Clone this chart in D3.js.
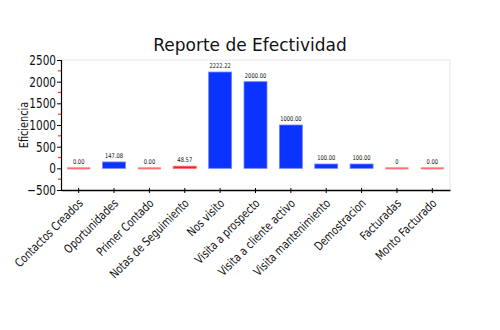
<!DOCTYPE html>
<html>
<head>
<meta charset="utf-8">
<script src="https://cdn.jsdelivr.net/npm/d3@7"></script>
<style>
  html, body { margin: 0; padding: 0; background: #fff; }
  svg text { font-family: "DejaVu Sans", sans-serif; }
</style>
</head>
<body>
<svg id="chart" width="500" height="330"></svg>
<script>
// Effectiveness report: one value per activity
const categories = ["Contactos Creados", "Oportunidades", "Primer Contado", "Notas de Seguimiento",
  "Nos visito", "Visita a prospecto", "Visita a cliente activo", "Visita mantenimiento",
  "Demostracion", "Facturadas", "Monto Facturado"];
const values = [0, 147.08, 0, 48.57, 2222.22, 2000, 1000, 100, 100, 0, 0];
const valueLabels = ["0.00", "147.08", "0.00", "48.57", "2222.22", "2000.00", "1000.00",
  "100.00", "100.00", "0", "0.00"];
const yTicks = [-500, 0, 500, 1000, 1500, 2000, 2500];
const yMinorTicks = [-250, 250, 750, 1250, 1750, 2250];

const svg = d3.select("#chart");
const margin = { left: 61, right: 50, top: 60, bottom: 140 };
const W = 500, H = 330;
const narrow = 0.75; // horizontal squeeze for the narrow label face

const x = d3.scaleBand().domain(categories)
  .range([margin.left, W - margin.right]).paddingInner(0.35).paddingOuter(0.175);
const y = d3.scaleLinear().domain([-500, 2500]).range([H - margin.bottom, margin.top]);

// plot frame (light top/right border)
svg.append("path")
  .attr("d", `M${margin.left},${margin.top}H${W - margin.right}V${H - margin.bottom}`)
  .attr("fill", "none").attr("stroke", "#e6e6e6").attr("stroke-width", 1);

// title
svg.append("text").attr("x", 250).attr("y", 51).attr("text-anchor", "middle")
  .attr("font-size", 17).attr("fill", "#111").text("Reporte de Efectividad");

// bars
const blue = "#0a33ff", red = "#ff1a1a";
const g = svg.append("g");
categories.forEach((c, i) => {
  const v = values[i];
  const x0 = x(c), bw = x.bandwidth();
  if (v === 0) {
    g.append("rect").attr("x", x0).attr("y", y(0) - 1).attr("width", bw).attr("height", 2)
      .attr("fill", "#ff7070");
  } else {
    const col = v < 50 ? red : blue;
    const top = y(v), h = Math.max(y(0) - top, 2);
    g.append("rect").attr("x", x0).attr("y", top).attr("width", bw).attr("height", h)
      .attr("fill", col).attr("stroke", v < 50 ? "#ff6060" : "#6f86ff").attr("stroke-width", 0.8);
  }
  g.append("text")
    .attr("transform", `translate(${x0 + bw / 2},${y(Math.max(v, 0)) - 4}) scale(0.8,1)`)
    .attr("text-anchor", "middle").attr("font-size", 6.5).attr("fill", "#111")
    .text(valueLabels[i]);
});

// y axis
const yAxis = d3.axisLeft(y).tickValues(yTicks).tickSize(4).tickPadding(3).tickFormat(d3.format("d"));
const ya = svg.append("g").attr("transform", `translate(${margin.left},0)`).call(yAxis);
ya.attr("font-family", null);
ya.select(".domain").attr("stroke", "#000").attr("stroke-width", 1.2);
ya.selectAll(".tick line").attr("stroke", "#000");
ya.selectAll(".tick text").attr("font-size", 14).attr("fill", "#111")
  .attr("x", null).attr("transform", `translate(-5,0) scale(${narrow},1)`);
ya.selectAll(".minor").data(yMinorTicks).enter().append("line")
  .attr("x1", -3).attr("x2", 0).attr("y1", d => y(d)).attr("y2", d => y(d))
  .attr("stroke", "#ff3030").attr("stroke-width", 1.2);

svg.append("text")
  .attr("transform", `translate(28,${(margin.top + H - margin.bottom) / 2}) rotate(-90) scale(${narrow},1)`)
  .attr("text-anchor", "middle").attr("font-size", 13).attr("fill", "#111").text("Eficiencia");

// x axis
const xAxis = d3.axisBottom(x).tickSizeInner(3).tickSizeOuter(0).tickPadding(4);
const xa = svg.append("g").attr("transform", `translate(0,${H - margin.bottom})`).call(xAxis);
xa.attr("font-family", null);
xa.select(".domain").attr("stroke", "#000").attr("stroke-width", 1.5);
xa.selectAll(".tick line").attr("y1", -2).attr("y2", 3).attr("stroke", "#000");
xa.selectAll(".tick text").attr("font-size", 12).attr("fill", "#111")
  .attr("text-anchor", "end").attr("dy", 0).attr("y", 0)
  .attr("transform", "translate(5,14) rotate(-45) scale(0.8,1)");
</script>
</body>
</html>
